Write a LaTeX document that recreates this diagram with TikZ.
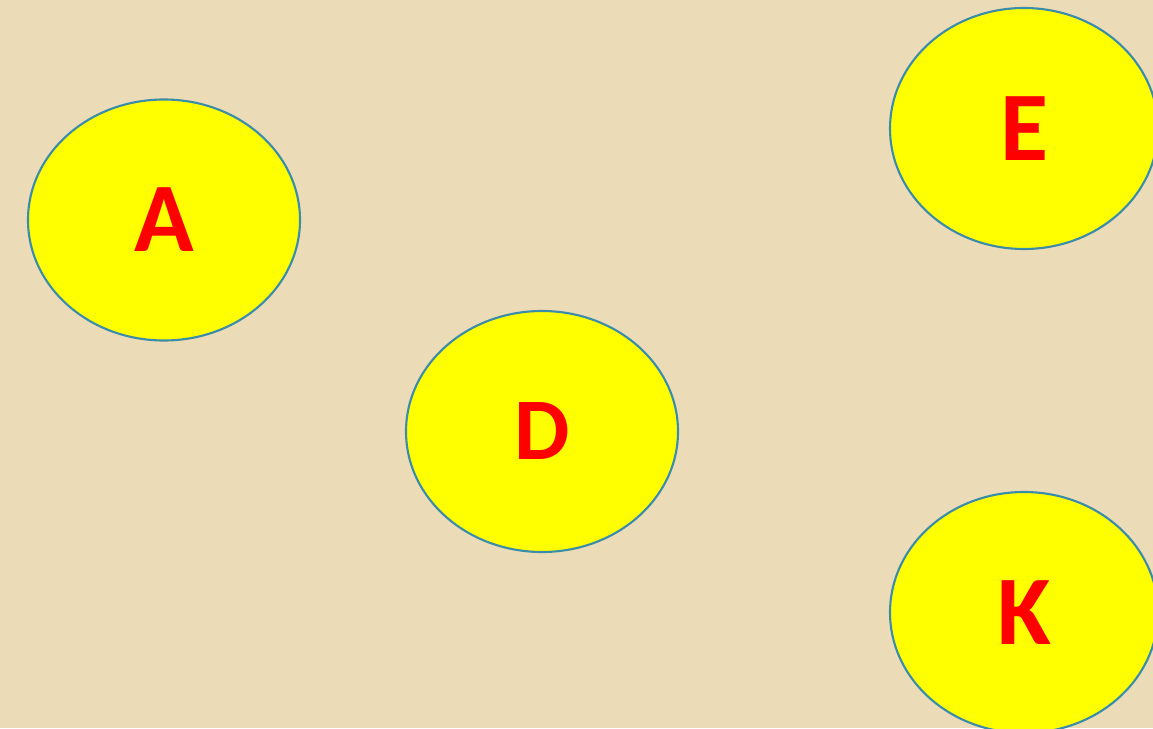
\documentclass[tikz,border=0pt]{standalone}
\usepackage{fontspec}
\setmainfont{Carlito}
\usepackage{xcolor}
\usetikzlibrary{shapes.geometric}
\definecolor{paper}{HTML}{ECDBB7}
\definecolor{rim}{HTML}{3A8CA8}
\definecolor{fillyel}{HTML}{FFFF00}
\definecolor{letter}{HTML}{FF0000}

\begin{document}
\begin{tikzpicture}[
    vertex/.style={ellipse,draw=rim,line width=0.6pt,fill=fillyel,inner sep=0pt,
      minimum width=2.72cm,minimum height=2.41cm,text=letter,
      font=\fontsize{28}{30}\selectfont\bfseries}
  ]
    \clip (0,0) rectangle (11.53,-7.28);
    \fill[paper] (0,0) rectangle (11.53,-7.28);
    \node[vertex] (nA) at (1.64,-2.20) {A};
    \node[vertex,font=\fontsize{25}{27}\selectfont\bfseries] (nD) at (5.42,-4.315) {D};
    \node[vertex,minimum width=2.68cm] (nE) at (10.24,-1.285) {E};
    \node[vertex,minimum width=2.68cm] (nK) at (10.24,-6.125) {K};
  \end{tikzpicture}
\end{document}
